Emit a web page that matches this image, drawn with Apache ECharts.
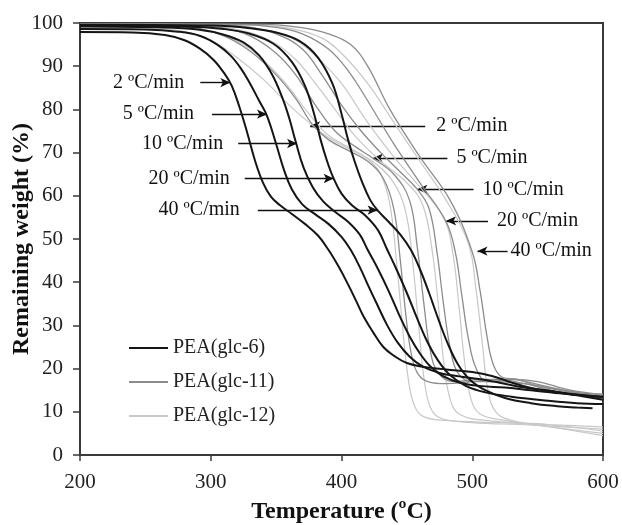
<!DOCTYPE html>
<html>
<head>
<meta charset="utf-8">
<script src="https://cdn.jsdelivr.net/npm/echarts@6/dist/echarts.min.js"></script>
<style>
  html, body { margin: 0; padding: 0; background: #fff; }
  #tga { width: 622px; height: 525px; }
</style>
</head>
<body>
<div id="tga"></div>
<script>
// heating rates (ºC/min)
var rates = ['2', '5', '10', '20', '40'];
var groups = ['PEA(glc-6)', 'PEA(glc-11)', 'PEA(glc-12)'];

// [temperature ºC, remaining weight %]
var glc6_2 = [[200,97.9],[240,97.8],[265,97.2],[280,96],[292,94],[302,91.5],[310,88.5],[316,85.5],[322,80.5],[328,74.5],[334,68],[340,63],[346,59.8],[353,57.8],[362,55.8],[372,53.5],[382,50.8],[390,47.5],[398,43.5],[405,39.5],[411,35.8],[417,32],[424,28.5],[432,25],[440,23],[450,21.3],[463,20.4],[480,19.8],[500,19.2],[515,18.3],[530,16.8],[545,15.5],[560,14.8],[580,14],[600,13.4]];
var glc6_5 = [[200,98.6],[250,98.5],[275,98],[292,97],[305,95],[315,92.5],[323,89.5],[330,86],[337,82],[343,78.5],[350,72],[356,66],[362,61.5],[370,58],[380,55.7],[390,53.5],[400,50.5],[407,47.5],[414,43.5],[420,39.5],[427,35],[435,30],[443,26],[452,22.8],[462,20.5],[475,19],[490,18.2],[505,17.6],[520,16.8],[540,15.6],[560,14.8],[580,13.8],[600,12.8]];
var glc6_10 = [[200,99.2],[260,99],[290,98.5],[310,97.3],[325,95.5],[337,92.5],[347,88],[355,82.5],[360,78],[365,72.5],[371,66.5],[378,62],[386,58.7],[395,56.3],[405,54],[414,51],[420,47.5],[428,43],[436,38],[444,32.5],[452,27.5],[460,23.5],[468,20.5],[478,18.2],[490,16.8],[505,16],[525,15.6],[545,15],[570,14.2],[600,13.5]];
var glc6_20 = [[200,99.4],[280,99.2],[310,98.6],[330,97.5],[348,95.2],[362,91],[372,85.5],[379,79],[384,73],[389,68],[394,64],[400,60.5],[408,57.8],[418,55.5],[428,52],[435,47.5],[442,43],[450,37.5],[458,31.5],[466,26],[474,21.8],[483,18.5],[495,16],[510,14.5],[530,13.5],[560,12.5],[580,12],[600,11.8]];
var glc6_40 = [[200,99.6],[300,99.4],[330,98.8],[350,97.8],[368,95.8],[382,92],[393,86],[400,79],[405,73],[410,68],[416,63],[422,59],[428,56.5],[436,54],[445,51],[453,47.5],[460,43],[467,37.5],[474,31.5],[481,26],[489,21],[498,17.5],[510,15],[525,13.2],[545,12],[565,11.3],[580,11],[592,10.8]];

var glc11_2 = [[200,99.6],[260,99.4],[290,98.8],[310,97],[330,93.5],[350,88],[365,82.5],[378,76.4],[390,73],[405,70.5],[420,68],[432,64],[440,57],[445,45],[449,33],[453,24],[458,19],[466,17],[480,16.5],[500,17],[520,17.5],[540,16.5],[560,15],[580,14],[600,13.5]];
var glc11_5 = [[200,99.7],[280,99.5],[310,98.8],[330,97],[350,93],[365,88],[380,81],[395,75],[410,71.5],[424,68.7],[440,65],[452,59],[458,48],[463,35],[468,24],[474,19],[485,17],[510,17.5],[530,17.5],[550,16],[575,14.5],[600,13]];
var glc11_10 = [[200,99.8],[300,99.6],[330,99],[350,97.5],[370,94],[385,88],[400,81],[415,75],[430,70],[445,65.5],[458,61.5],[467,57],[473,47],[478,35],[483,25],[489,19],[500,17],[520,17],[540,16.5],[560,15.5],[600,13.5]];
var glc11_20 = [[200,99.8],[320,99.7],[350,99],[370,97.5],[390,94],[405,89],[420,82],[440,72],[460,63],[480,54],[487,47],[492,37],[497,27],[503,20],[512,17],[530,17.5],[550,17],[575,15],[600,14]];
var glc11_40 = [[200,99.8],[340,99.7],[368,99],[390,97.5],[407,95],[420,90],[437,80],[460,69],[483,59],[500,47],[506,38],[511,28],[516,21],[523,18],[535,17.5],[555,16],[580,14.5],[600,14]];

var glc12_2 = [[200,99.3],[250,99],[280,98],[300,96],[320,92],[340,87],[360,81],[375,77],[390,73.5],[405,71],[420,68.5],[430,65],[437,58],[442,45],[446,32],[450,20],[455,12],[462,9],[480,8],[520,7.5],[560,7],[600,6.5]];
var glc12_5 = [[200,99.5],[270,99.2],[300,98],[325,95],[345,90],[360,85],[375,79],[390,74],[410,70.5],[428,67],[442,62],[450,55],[455,43],[459,30],[463,18],[468,11],[476,8.5],[500,7.5],[540,7],[600,6]];
var glc12_10 = [[200,99.6],[290,99.4],[320,98.5],[345,96],[365,91.5],[380,86],[395,80],[410,74],[430,68],[450,63],[462,58],[469,48],[474,35],[478,22],[483,13],[490,9.5],[510,8],[560,7],[600,5.5]];
var glc12_20 = [[200,99.7],[310,99.5],[340,98.5],[365,96],[385,91],[400,86],[420,77],[440,69],[460,62],[478,55],[485,47],[490,34],[494,22],[499,13],[506,9.5],[525,8],[560,6.5],[600,5]];
var glc12_40 = [[200,99.7],[330,99.5],[360,98.8],[385,96.5],[400,93],[420,86],[440,77],[460,68],[480,59],[497,49],[503,38],[508,25],[512,15],[518,10],[530,8],[560,6.5],[600,4.5]];

var curves = [
  [glc6_2, glc6_5, glc6_10, glc6_20, glc6_40],
  [glc11_2, glc11_5, glc11_10, glc11_20, glc11_40],
  [glc12_2, glc12_5, glc12_10, glc12_20, glc12_40]
];

// arrow annotations: [text-side temperature, tip temperature, weight]
var leftArrows = [[292,315,86.2],[301,343,78.9],[321,366,72.1],[326,394,64],[336,427.6,56.7]];
var rightArrows = [[464,376,76.2],[481,424,68.7],[501,458,61.5],[512,480,54.2],[527,504,47.2]];

var serif = 'Liberation Serif, Times New Roman, serif';
var groupColor = ['#151515', '#8c8c8c', '#c8c8c8'];
var groupWidth = [2, 1.3, 1.2];

var series = [];
for (var g = 0; g < groups.length; g++) {
  for (var r = 0; r < rates.length; r++) {
    series.push({
      name: groups[g],
      type: 'line',
      data: curves[g][r],
      symbol: 'none',
      smooth: 0.4,
      z: 10 - g,
      lineStyle: { color: groupColor[g], width: groupWidth[g] },
      itemStyle: { color: groupColor[g] }
    });
  }
}

function arrowData(list, dist) {
  return list.map(function (a, i) {
    return [
      { coord: [a[0], a[2]],
        label: { show: true, position: 'start', distance: dist[i], formatter: rates[i] + ' ºC/min' } },
      { coord: [a[1], a[2]] }
    ];
  });
}

series.push({
  name: 'arrows',
  type: 'line',
  data: [],
  markLine: {
    silent: true,
    symbol: ['none', 'arrow'],
    symbolSize: [7, 10],
    lineStyle: { color: '#111', width: 1.4, type: 'solid' },
    label: { color: '#111', fontFamily: serif, fontSize: 20 },
    data: arrowData(leftArrows, [16, 18, 15, 15, 18]).concat(arrowData(rightArrows, [11, 9, 9, 9, 3]))
  }
});

var dom = document.getElementById('tga');
var myChart = echarts.init(dom, null, { renderer: 'canvas' });

var option = {
  animation: false,
  backgroundColor: '#fff',
  grid: {
    left: 80, right: 19, top: 23, bottom: 70,
    outerBoundsMode: 'none',
    containLabel: false,
    show: true, borderColor: '#3a3a3a', borderWidth: 2
  },
  legend: {
    data: groups,
    orient: 'vertical',
    left: 124, top: 333,
    icon: 'rect',
    itemWidth: 39, itemHeight: 2, itemGap: 14,
    textStyle: { fontFamily: serif, fontSize: 20, color: '#222' }
  },
  xAxis: {
    type: 'value',
    min: 200, max: 600, interval: 100,
    name: 'Temperature (ºC)',
    nameLocation: 'middle',
    nameGap: 45,
    nameMoveOverlap: false,
    nameTextStyle: { fontFamily: serif, fontSize: 24, fontWeight: 'bold', color: '#111' },
    axisLine: { lineStyle: { color: '#3a3a3a', width: 2 } },
    axisTick: { inside: false, length: 6, lineStyle: { color: '#3a3a3a', width: 1.5 } },
    axisLabel: { fontFamily: serif, fontSize: 21, color: '#222', margin: 17 },
    splitLine: { show: false }
  },
  yAxis: {
    type: 'value',
    min: 0, max: 100, interval: 10,
    name: 'Remaining weight (%)',
    nameLocation: 'middle',
    nameGap: 46,
    nameMoveOverlap: false,
    nameTextStyle: { fontFamily: serif, fontSize: 24, fontWeight: 'bold', color: '#111' },
    axisLine: { lineStyle: { color: '#3a3a3a', width: 2 } },
    axisTick: { inside: false, length: 7, lineStyle: { color: '#3a3a3a', width: 1.5 } },
    axisLabel: { fontFamily: serif, fontSize: 21, color: '#222', margin: 17 },
    splitLine: { show: false }
  },
  series: series
};

myChart.setOption(option);
window.addEventListener('resize', myChart.resize);
</script>
</body>
</html>
